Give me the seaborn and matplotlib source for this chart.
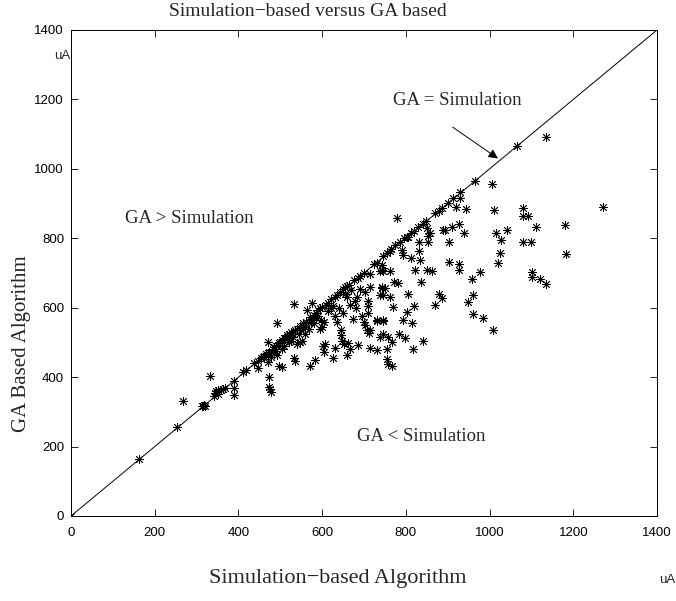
import matplotlib
matplotlib.use("Agg")
import matplotlib.pyplot as plt
import seaborn as sns
import pandas as pd

# Simulation-based (x) vs GA based (y), in uA
sim = [0, 162, 254, 268, 313, 315, 318, 320, 332, 341, 346, 352, 358, 363, 368, 350, 345,
       390, 390, 390, 410, 418, 438, 446, 446, 454, 458, 462, 466, 470, 473, 470, 471, 477,
       493, 473, 473, 476, 478, 493, 497, 497, 503, 509, 515, 520, 525, 533, 533, 534, 541,
       546, 552, 560, 568, 574, 564, 576, 584, 570, 596, 600, 598, 604, 604, 602, 608, 620,
       626, 651, 655, 660, 651, 646, 646, 648, 653, 667, 675, 679, 683, 667, 710, 710, 710,
       707, 711, 715, 738, 730, 746, 686, 702, 742, 746,
       482, 486, 490, 494, 500, 505, 512, 518, 528, 535, 540, 548, 555, 562, 570, 580, 585,
       590, 610, 615, 630, 636, 642, 665, 690, 700, 725,
       485, 490, 505, 510, 520, 525, 530, 545, 550, 555, 560, 575, 580, 585, 590, 595, 600,
       615, 620, 625, 630, 635, 640, 655, 660, 670, 680, 690, 695, 700, 715,
       738, 757, 714, 731, 754, 686, 662, 659, 631, 674, 702, 714,
       1066, 1136, 964, 1006, 930, 930, 886, 920, 944, 1010, 1080, 1080, 1092, 1272, 780,
       848, 850, 858, 854, 888, 894, 910, 928, 940, 832, 854, 904, 802, 1016, 1042, 1028,
       1112, 1180, 1080, 1100, 1024, 1020, 1182, 1102, 1102, 1120, 1136, 958, 978, 960,
       948, 960, 984, 1007, 903, 926, 928, 832, 834, 812, 790, 794, 762, 746, 742, 746, 762,
       772, 782, 742, 750, 738, 762, 806, 822, 850, 862, 836, 880, 886, 870, 820, 802, 770,
       794, 814, 730, 746, 746, 784, 798, 766, 840, 816, 754, 758, 766, 742, 730,
       755, 765, 775, 785, 795, 805, 812, 820, 830, 840, 870, 880, 900, 912]
ga = [0, 165, 256, 330, 316, 318, 319, 317, 403, 346, 359, 362, 364, 366, 368, 352, 355,
      389, 368, 350, 414, 420, 441, 447, 425, 455, 458, 462, 466, 470, 472, 502, 445, 459,
      463, 400, 373, 365, 357, 555, 497, 432, 429, 513, 520, 525, 531, 612, 454, 447, 495,
      500, 505, 525, 540, 555, 594, 615, 450, 432, 600, 603, 565, 560, 472, 490, 495, 625,
      454, 655, 660, 662, 585, 535, 520, 505, 495, 480, 680, 618, 630, 608, 620, 605, 585,
      535, 527, 698, 707, 564, 564, 686, 645, 660, 636,
      482, 486, 490, 494, 500, 506, 512, 518, 528, 535, 540, 548, 555, 560, 572, 578, 585,
      592, 608, 615, 630, 638, 645, 665, 692, 700, 725,
      470, 475, 480, 490, 500, 505, 515, 525, 535, 540, 545, 565, 555, 570, 575, 540, 545,
      590, 600, 605, 575, 560, 600, 640, 630, 650, 600, 655, 575, 560, 660,
      516, 516, 484, 478, 480, 493, 498, 464, 484, 568, 550, 536,
      1066, 1093, 965, 957, 932, 916, 886, 889, 885, 882, 886, 865, 864, 889, 859,
      850, 830, 815, 807, 825, 825, 832, 841, 814, 789, 789, 789, 804, 814, 823, 795,
      832, 839, 789, 789, 759, 730, 755, 703, 689, 684, 669, 683, 703, 637,
      616, 582, 571, 535, 733, 725, 709, 762, 737, 742, 766, 753, 763, 748, 710, 705, 705,
      675, 671, 657, 657, 636, 630, 639, 709, 709, 707, 675, 639, 627, 609, 605, 587, 602,
      566, 557, 562, 562, 525, 525, 514, 500, 505, 480, 453, 439, 433, 724, 730,
      758, 768, 780, 790, 800, 805, 815, 822, 832, 842, 872, 880, 903, 915]

df = pd.DataFrame({"sim": sim, "ga": ga})

sns.set_style("ticks")
plt.rcParams["font.family"] = ["DejaVu Sans"]

W, H = 676, 601
fig = plt.figure(figsize=(W / 100, H / 100), dpi=100)
ax = fig.add_axes([71 / W, 1 - 516 / H, 586 / W, 486 / H])

ax.plot([0, 1400], [0, 1400], color="black", lw=0.7, zorder=1)
sns.scatterplot(data=df, x="sim", y="ga", ax=ax, marker=(8, 2, 0), s=34,
                color="black", linewidth=0.6, zorder=3, legend=False)

ax.set_xlim(0, 1400)
ax.set_ylim(0, 1400)
ticks = [0, 200, 400, 600, 800, 1000, 1200, 1400]
ax.set_xticks(ticks)
ax.set_yticks(ticks)
tick_font = ["Liberation Sans Narrow", "Liberation Sans"]
ax.set_xticklabels([str(t) for t in ticks], family=tick_font, fontsize=9.5)
ax.set_yticklabels([str(t) for t in ticks], family=tick_font, fontsize=9.5)
ax.tick_params(direction="in", length=5, width=0.6, top=True, right=True, colors="black")
ax.tick_params(axis="x", pad=8)
ax.tick_params(axis="y", pad=5)
for sp in ax.spines.values():
    sp.set_linewidth(0.7)
    sp.set_color("black")
    sp.set_visible(True)
ax.set_xlabel("")
ax.set_ylabel("")

serif = ["Liberation Serif", "DejaVu Serif"]
fig.text(308 / W, 1 - 11 / H, "Simulation\u2212based versus GA based", family=serif,
         fontsize=14, ha="center", va="center")
fig.text(338 / W, 1 - 578 / H, "Simulation\u2212based Algorithm", family=serif,
         fontsize=16, ha="center", va="center")
fig.text(22 / W, 1 - 344 / H, "GA Based Algorithm", family=serif, fontsize=15,
         rotation=90, ha="center", va="center")

fig.text(62 / W, 1 - 56 / H, "uA", family=tick_font, fontsize=9.5, ha="center", va="center")
fig.text(667 / W, 1 - 580 / H, "uA", family=tick_font, fontsize=9.5, ha="center", va="center")

ax.text(283, 858, "GA > Simulation", family=serif, fontsize=13.5, ha="center", va="center")
ax.text(836, 228, "GA < Simulation", family=serif, fontsize=13.5, ha="center", va="center")
ax.text(923, 1198, "GA = Simulation", family=serif, fontsize=13.5, ha="center", va="center")
ax.annotate("", xy=(1020, 1030), xytext=(912, 1120),
            arrowprops=dict(arrowstyle="-|>", color="black", lw=0.7,
                            mutation_scale=14, shrinkA=0, shrinkB=0))

fig.savefig("out.png", dpi=100)
